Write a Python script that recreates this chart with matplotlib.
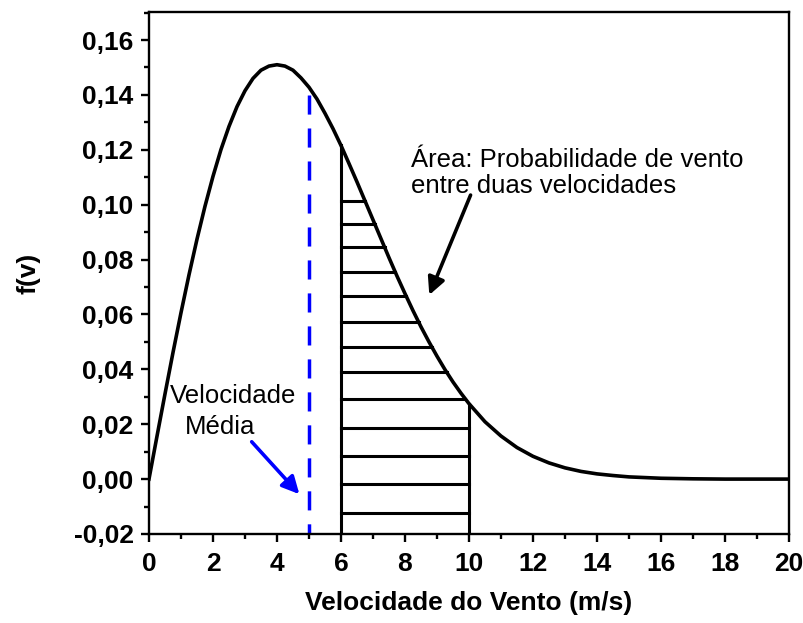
import numpy as np
import matplotlib.pyplot as plt
from matplotlib.ticker import FuncFormatter, MultipleLocator

# curva f(v)
v = [0, 0.25, 0.5, 0.75, 1, 1.25, 1.5, 1.75, 2, 2.25, 2.5, 2.75, 3, 3.25,
     3.5, 3.75, 4, 4.25, 4.5, 4.75, 5, 5.25, 5.5, 5.75, 6, 6.25, 6.5, 6.75,
     7, 7.25, 7.5, 7.75, 8, 8.25, 8.5, 8.75, 9, 9.25, 9.5, 9.75, 10, 10.5,
     11, 11.5, 12, 12.5, 13, 13.5, 14, 14.5, 15, 16, 17, 18, 19, 20]
fv = [0.0, 0.0156, 0.0310, 0.0461, 0.0606, 0.0744, 0.0874, 0.0994, 0.1103,
      0.1201, 0.1285, 0.1357, 0.1415, 0.1460, 0.1490, 0.1505, 0.1510, 0.1505,
      0.1490, 0.1462, 0.1428, 0.1385, 0.1333, 0.1277, 0.1216, 0.1150, 0.1083,
      0.1014, 0.0945, 0.0876, 0.0807, 0.0740, 0.0676, 0.0614, 0.0555, 0.0500,
      0.0448, 0.0399, 0.0354, 0.0313, 0.0275, 0.0209, 0.0157, 0.0115, 0.0083,
      0.0059, 0.0041, 0.0028, 0.0019, 0.0013, 0.0008, 0.0003, 0.0001, 0.0,
      0.0, 0.0]

v_media = 5
v_ini, v_fim = 6, 10
# linhas horizontais da area hachurada
hatch_levels = [0.1013, 0.0929, 0.0845, 0.0754, 0.0667, 0.0572, 0.0481,
                0.0390, 0.0292, 0.0186, 0.0084, -0.0018, -0.0124]

plt.rcParams['font.family'] = ['Liberation Sans', 'DejaVu Sans']

fig = plt.figure(figsize=(8.04, 6.23), dpi=100)
ax = fig.add_axes([0.1853, 0.1429, 0.7960, 0.8378])

ymin, ymax = -0.02, 0.1702
ax.plot(v, fv, color='black', lw=2.6, zorder=3, solid_joinstyle='round')

# limites da area
f_ini = np.interp(v_ini, v, fv)
f_fim = np.interp(v_fim, v, fv)
ax.plot([v_ini, v_ini], [ymin, f_ini], color='black', lw=2.2)
ax.plot([v_fim, v_fim], [ymin, f_fim], color='black', lw=2.2)

# lado descendente da curva, para achar onde cada linha encosta
i_pico = int(np.argmax(fv))
desc_v = np.array(v[i_pico:])[::-1]
desc_f = np.array(fv[i_pico:])[::-1]
for lvl in hatch_levels:
    x_right = min(v_fim, np.interp(lvl, desc_f, desc_v))
    ax.plot([v_ini, x_right], [lvl, lvl], color='black', lw=2.2)

# velocidade media (desenhada de cima para baixo)
f_med = np.interp(v_media, v, fv)
ax.plot([v_media, v_media], [f_med - 0.003, ymin], color='#0000ff', lw=2.5,
        dashes=(5.5, 4.0))

ax.text(2.62, 0.0303, 'Velocidade', fontsize=18.5, ha='center', va='center')
ax.text(2.22, 0.0190, 'Média', fontsize=18.5, ha='center', va='center')
ax.annotate('', xy=(4.70, -0.0055), xytext=(3.21, 0.0136),
            arrowprops=dict(arrowstyle='-|>', color='#0000ff', lw=2.6,
                            mutation_scale=26, shrinkA=0, shrinkB=0))

ax.text(8.19, 0.1117, 'Área: Probabilidade de vento\nentre duas velocidades',
        fontsize=18.5, ha='left', va='center', linespacing=1.1)
ax.annotate('', xy=(8.76, 0.0671), xytext=(10.05, 0.1035),
            arrowprops=dict(arrowstyle='-|>', color='black', lw=2.6,
                            mutation_scale=26, shrinkA=0, shrinkB=0))

ax.set_xlim(0, 20)
ax.set_ylim(ymin, ymax)
ax.xaxis.set_major_locator(MultipleLocator(2))
ax.xaxis.set_minor_locator(MultipleLocator(1))
ax.yaxis.set_major_locator(MultipleLocator(0.02))
ax.yaxis.set_minor_locator(MultipleLocator(0.01))
ax.yaxis.set_major_formatter(FuncFormatter(lambda y, p: f'{y:.2f}'.replace('.', ',')))
ax.xaxis.set_major_formatter(FuncFormatter(lambda x, p: f'{x:.0f}'))

for s in ax.spines.values():
    s.set_linewidth(1.7)
ax.tick_params(which='major', direction='out', length=6, width=1.7,
               labelsize=19)
ax.tick_params(axis='y', which='major', pad=5)
ax.tick_params(axis='x', which='major', pad=7)
ax.tick_params(which='minor', direction='out', length=3.5, width=1.7)
for lab in ax.get_xticklabels() + ax.get_yticklabels():
    lab.set_fontweight('bold')

ax.set_xlabel('Velocidade do Vento (m/s)', fontsize=19, fontweight='bold',
              labelpad=11)
ax.set_ylabel('f(v)', fontsize=19, fontweight='bold', labelpad=24)

fig.savefig('out.png', dpi=100)
